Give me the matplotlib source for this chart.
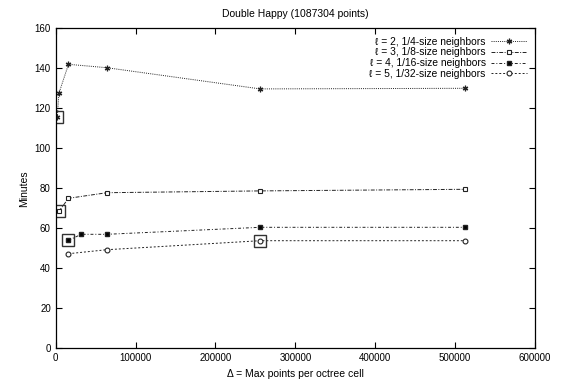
import matplotlib
matplotlib.use("Agg")
import matplotlib.pyplot as plt

plt.rcParams['font.family'] = ['Liberation Sans', 'DejaVu Sans']
plt.rcParams['font.size'] = 7

# Max points per octree cell vs. minutes, one series per neighbor level
x_l2 = [2000, 4000, 16000, 64000, 256000, 512000]
y_l2 = [115.5, 127.5, 142.0, 140.3, 129.7, 130.0]

x_l3 = [4000, 16000, 64000, 256000, 512000]
y_l3 = [68.5, 75.0, 77.8, 78.7, 79.5]

x_l4 = [16000, 32000, 64000, 256000, 512000]
y_l4 = [54.0, 57.0, 57.0, 60.5, 60.5]

x_l5 = [16000, 64000, 256000, 512000]
y_l5 = [47.3, 49.3, 53.8, 53.8]

# boxed (highlighted) points
x_box = [2000, 4000, 16000, 256000]
y_box = [115.5, 68.5, 54.0, 53.8]

labels = ["ℓ = 2, 1/4-size neighbors",
          "ℓ = 3, 1/8-size neighbors",
          "ℓ = 4, 1/16-size neighbors",
          "ℓ = 5, 1/32-size neighbors"]

fig = plt.figure(figsize=(5.61, 3.79), dpi=100)
ax = fig.add_axes([0.0993, 0.081, 0.9537 - 0.0993, 0.9253 - 0.081])

lw = 0.7
col = '#222222'
ax.plot(x_l2, y_l2, linestyle=(0, (1, 1.2)), color=col, lw=lw,
        marker=(6, 2, 0), markersize=4, markeredgewidth=0.9, label=labels[0])
ax.plot(x_l3, y_l3, linestyle=(0, (4, 1.5, 1, 1.5)), color=col, lw=lw,
        marker='s', markersize=3.5, markerfacecolor='white',
        markeredgewidth=0.8, label=labels[1])
ax.plot(x_l4, y_l4, linestyle=(0, (3, 2, 1, 2)), color=col, lw=lw,
        marker='s', markersize=3.5, markerfacecolor='black', label=labels[2])
ax.plot(x_l5, y_l5, linestyle=(0, (2, 2)), color=col, lw=lw,
        marker='o', markersize=3.5, markerfacecolor='white',
        markeredgewidth=0.8, label=labels[3])
ax.plot(x_box, y_box, linestyle='none', marker='s', markersize=9,
        markerfacecolor='none', markeredgecolor='#333333', markeredgewidth=1.0)

ax.set_xlim(0, 600000)
ax.set_ylim(0, 160)
ax.set_xticks(range(0, 600001, 100000))
ax.set_yticks(range(0, 161, 20))
ax.tick_params(direction='in', top=True, right=True, length=4, width=0.8,
               labelsize=7)
for s in ax.spines.values():
    s.set_linewidth(0.9)

ax.set_title("Double Happy (1087304 points)", fontsize=7.5, pad=8)
ax.set_xlabel("Δ = Max points per octree cell", fontsize=7.5)
ax.set_ylabel("Minutes", fontsize=7.5)

ax.legend(loc='upper right', frameon=False, markerfirst=False, fontsize=7.4,
          handlelength=3.5, handletextpad=0.5, labelspacing=0.08,
          borderaxespad=0.5, borderpad=0.3)

fig.savefig("out.png", dpi=100)
